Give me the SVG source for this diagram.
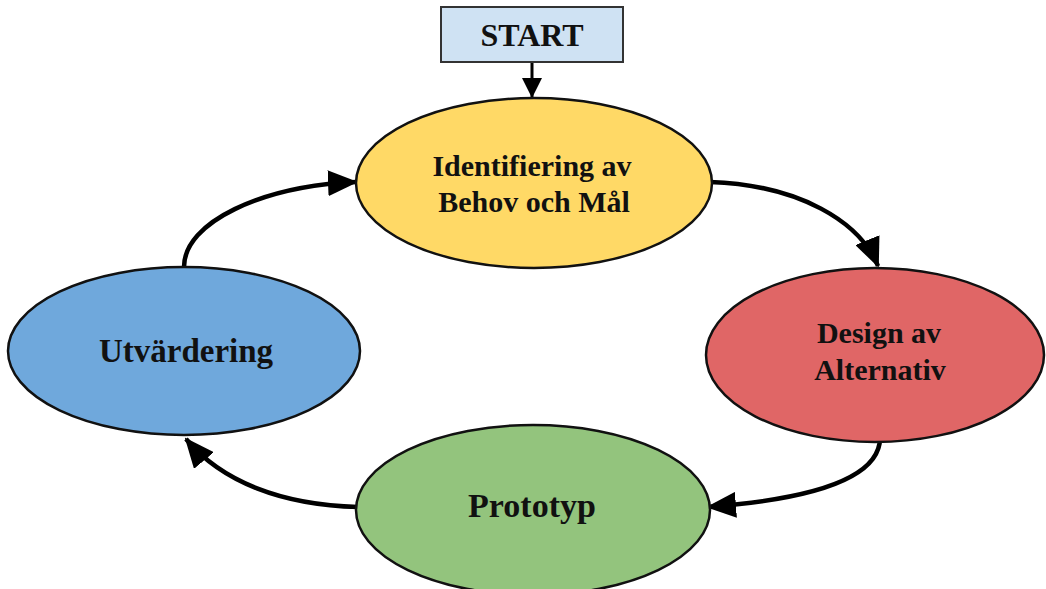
<svg xmlns="http://www.w3.org/2000/svg" width="1046" height="589" viewBox="0 0 1046 589">
<style>
text{font-family:"Liberation Serif","Times New Roman",serif;font-weight:bold;fill:#111;text-anchor:middle}
.n{stroke:#111;stroke-width:2.5}
.c{fill:none;stroke:#000;stroke-width:4.5}
</style>
<defs>
<marker id="ah" markerUnits="userSpaceOnUse" markerWidth="30" markerHeight="26" viewBox="0 0 30 26" refX="28" refY="13" orient="auto">
<path d="M0,0 L30,13 L0,26 Z" fill="#000"/>
</marker>
<marker id="ahs" markerUnits="userSpaceOnUse" markerWidth="20" markerHeight="20" viewBox="0 0 20 20" refX="19" refY="10" orient="auto">
<path d="M0,0 L20,10 L0,20 Z" fill="#000"/>
</marker>
</defs>
<rect width="1046" height="589" fill="#fff"/>
<g id="connectors">
<path class="c" style="stroke-width:3" d="M532,62 L532,97" marker-end="url(#ahs)"/>
<path class="c" d="M710,182 C800,185 860,222 878,266" marker-end="url(#ah)"/>
<path class="c" d="M880,436 C882,482 800,500 708,507" marker-end="url(#ah)"/>
<path class="c" d="M358,507 C282,505 222,482 186,439" marker-end="url(#ah)"/>
<path class="c" d="M184,267 C184,222 262,186 356,182" marker-end="url(#ah)"/>
</g>
<g id="start">
<rect x="441" y="7" width="182" height="55" fill="#cfe2f3" stroke="#333" stroke-width="2"/>
<text x="532" y="46" font-size="32">START</text>
</g>
<g id="identifiering">
<ellipse class="n" cx="534" cy="183" rx="178" ry="85" fill="#ffd966"/>
<text x="532" y="176" font-size="30">Identifiering av</text>
<text x="534" y="212" font-size="30">Behov och Mål</text>
</g>
<g id="design">
<ellipse class="n" cx="875" cy="355" rx="169" ry="87" fill="#e06666"/>
<text x="879" y="343" font-size="30">Design av</text>
<text x="880" y="380" font-size="30">Alternativ</text>
</g>
<g id="utvardering">
<ellipse class="n" cx="184" cy="351" rx="176" ry="84" fill="#6fa8dc"/>
<text x="186" y="362" font-size="33">Utvärdering</text>
</g>
<g id="prototyp">
<ellipse class="n" cx="533" cy="510" rx="177" ry="85" fill="#93c47d"/>
<text x="532" y="517" font-size="34">Prototyp</text>
</g>
</svg>
